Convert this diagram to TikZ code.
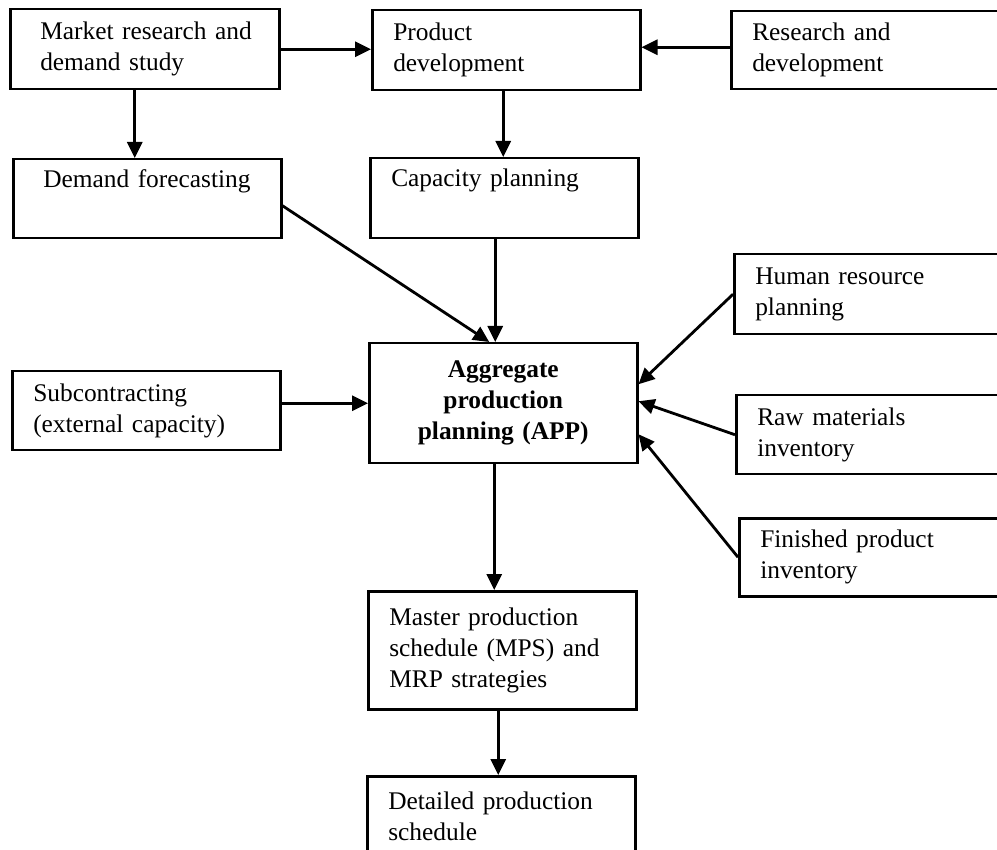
\documentclass[tikz,border=0pt]{standalone}
\usepackage{fontspec}
\setmainfont{Liberation Serif}
\usetikzlibrary{arrows.meta}

\tikzset{
  box/.style={draw, line width=2.5pt, anchor=north west, align=left,
    inner xsep=21pt, inner ysep=0pt,
    font=\fontsize{25.4pt}{31pt}\selectfont},
  wide/.style={inner xsep=30pt},
  arr/.style={line width=2.8pt, -{Triangle[length=16pt,width=15pt]}}
}

\begin{document}
\begin{tikzpicture}[x=1pt, y=-1pt]
  \path[use as bounding box, clip] (0,0) rectangle (997,850);
  \fill[white] (0,0) rectangle (997,850);

  % top row
  \node[box, wide, text width=209pt, minimum height=80pt] (mr) at (9,8)
    {\mbox{Market research and}\\demand study};
  \node[box, text width=226pt, minimum height=80pt] (pd) at (371,9)
    {Product\\development};
  \node[box, text width=258pt, minimum height=78pt] (rd) at (730,10)
    {Research and\\development};

  % second row
  \node[box, wide, text width=208pt, minimum height=79pt] (df) at (12,158)
    {\mbox{Demand forecasting}\\\strut};
  \node[box, text width=226pt, minimum height=80pt] (cp) at (369,157)
    {Capacity planning\\\strut};

  % central block and its inputs
  \node[box, align=center, text width=226pt, minimum height=120pt,
        font=\fontsize{25.4pt}{31pt}\selectfont\bfseries] (app) at (368,342)
    {Aggregate\\production\\planning (APP)};
  \node[box, text width=226pt, minimum height=79pt] (sub) at (11,370)
    {Subcontracting\\(external capacity)};
  \node[box, text width=258pt, minimum height=80pt] (hr) at (733,253)
    {Human resource\\planning};
  \node[box, text width=258pt, minimum height=79pt] (raw) at (735,394)
    {Raw materials\\inventory};
  \node[box, text width=258pt, minimum height=78pt] (fin) at (738,517)
    {Finished product\\inventory};

  % downstream schedules
  \node[box, text width=226pt, minimum height=118pt] (mps) at (367,590)
    {Master production\\schedule (MPS) and\\MRP strategies};
  \node[box, text width=226pt, minimum height=80pt] (det) at (366,775)
    {Detailed production\\schedule};

  % connectors
  \draw[arr] (mr.east) -- (mr.east -| pd.west);
  \draw[arr] ([yshift=3pt]rd.west) -- ([yshift=3pt]rd.west -| pd.east);
  \draw[arr] ([xshift=-10pt]mr.south) -- ([xshift=-10pt]mr.south |- df.north);
  \draw[arr] ([xshift=-3pt]pd.south) -- ([xshift=-3pt]pd.south |- cp.north);
  \draw[arr] ([yshift=-7pt]df.east) -- ([xshift=-14pt]app.north);
  \draw[arr] ([xshift=-9pt]cp.south) -- ([xshift=-9pt]cp.south |- app.north);
  \draw[arr] (sub.east |- app.west) -- (app.west);
  \draw[arr] (hr.west) -- ([yshift=19pt]app.east);
  \draw[arr] (raw.west) -- ([yshift=2pt]app.east);
  \draw[arr] (fin.west) -- ([yshift=-31pt]app.east);
  \draw[arr] ([xshift=-9pt]app.south) -- ([xshift=-9pt]app.south |- mps.north);
  \draw[arr] ([xshift=-4pt]mps.south) -- ([xshift=-4pt]mps.south |- det.north);
\end{tikzpicture}
\end{document}
